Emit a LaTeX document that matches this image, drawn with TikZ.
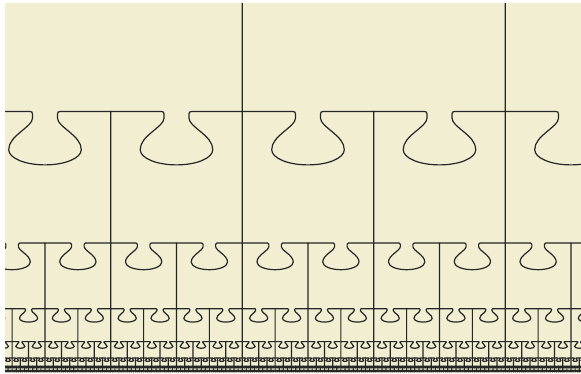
\documentclass[tikz,border=0pt]{standalone}
\definecolor{paper}{HTML}{F1EED2}
\begin{document}
\begin{tikzpicture}[x=1pt,y=-1pt]
    % 背景
    \useasboundingbox (0,0) rectangle (581,373);
    \fill[paper] (5,3) rectangle (581,373);
    \clip (5,3) rectangle (581,373);

    % 逐层：每格一条竖线加一个凸起，宽度逐层减半
    \foreach \k in {0,...,7} {
        \pgfmathsetmacro\P{263/2^\k}
        \pgfmathsetmacro\y{374.5-2*\P}
        \pgfmathtruncatemacro\jmin{floor((5-242.25)/\P)-1}
        \pgfmathtruncatemacro\jmax{ceil((581-242.25)/\P)+1}
        \foreach \j in {\jmin,...,\jmax} {
            \pgfmathsetmacro\xc{242.25+(\j+0.5)*\P}
            \draw[black!85, line width=1.2pt, shift={(\xc,\y)}, scale=\P]
                (-0.5,1) -- (-0.5,0) -- (-0.115,0)
                .. controls (-0.1,0) and (-0.095,0.005) .. (-0.095,0.02)
                -- (-0.095,0.05)
                .. controls (-0.095,0.12) and (-0.276,0.18) .. (-0.276,0.29)
                .. controls (-0.276,0.355) and (-0.152,0.406) .. (0,0.406)
                .. controls (0.152,0.406) and (0.276,0.355) .. (0.276,0.29)
                .. controls (0.276,0.18) and (0.095,0.12) .. (0.095,0.05)
                -- (0.095,0.02)
                .. controls (0.095,0.005) and (0.1,0) .. (0.115,0)
                -- (0.5,0);
        }
    }
\end{tikzpicture}
\end{document}
